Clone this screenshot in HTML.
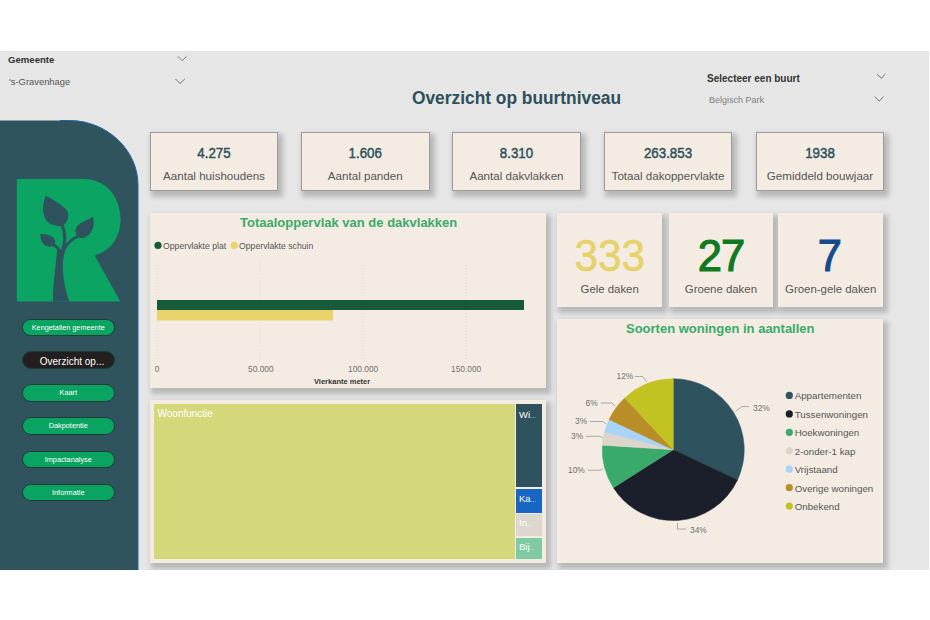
<!DOCTYPE html>
<html><head><meta charset="utf-8">
<style>
*{margin:0;padding:0;box-sizing:border-box}
html,body{width:930px;height:620px;overflow:hidden;background:#fff;font-family:"Liberation Sans",sans-serif}
.abs{position:absolute}
#bg{position:absolute;left:0;top:51.3px;width:929px;height:519px;background:#e6e6e6}
#side{position:absolute;left:0;top:120px;width:138px;height:450px;background:#2e535e;border-top-right-radius:68px 62px;border-right:1px solid #3a78c0}
.btn{position:absolute;left:22px;width:92.5px;height:17.5px;border-radius:9px;background:#0aa462;color:#fff;font-size:7.3px;text-align:center;line-height:15.5px;border:1px solid #223c3a;white-space:nowrap}
.card{position:absolute;background:#f4ece2;box-shadow:3px 4px 5px 2px rgba(0,0,0,0.2)}
.kpi{border:1px solid #9a9a96}
.kv{position:absolute;left:0;right:0;text-align:center;font-weight:normal;-webkit-text-stroke:0.45px #2d4f5c;color:#2d4f5c;font-size:14.8px;line-height:17px;transform:scaleX(0.9)}
.kl{position:absolute;left:0;right:0;text-align:center;color:#555;font-size:11.6px;line-height:14px}
.t{position:absolute;white-space:nowrap}
.big{position:absolute;left:0;right:0;text-align:center;font-size:43.5px;line-height:50px}
.sl{position:absolute;left:0;right:0;text-align:center;color:#555;font-size:11.4px;line-height:14px}
.pl{position:absolute;font-size:8.4px;color:#707070;white-space:nowrap;line-height:10px}
.lg{position:absolute;left:794.7px;font-size:9.75px;color:#555;white-space:nowrap;line-height:12px}
.tm{position:absolute;color:#fff;font-size:9.5px;white-space:nowrap;line-height:12px}
.tm i{font-style:normal;font-size:6px;letter-spacing:0.3px}
</style></head><body>
<div id="bg"></div>
<!-- slicers -->
<div class="t" style="left:8px;top:54px;font-size:9.6px;font-weight:bold;color:#333">Gemeente</div>
<div class="t" style="left:9px;top:76px;font-size:9.4px;color:#555">'s-Gravenhage</div>

<div class="t" style="left:412.4px;top:87.5px;font-size:18px;transform:scaleX(0.963);transform-origin:0 0;font-weight:bold;color:#2d4f5c">Overzicht op buurtniveau</div>

<div class="t" style="left:707px;top:72.5px;font-size:10px;font-weight:bold;color:#333">Selecteer een buurt</div>
<div class="t" style="left:709px;top:95px;font-size:9px;color:#808080">Belgisch Park</div>

<svg class="abs" style="left:0;top:0" width="930" height="120"><g fill="none" stroke="#666" stroke-width="0.9">
<path d="M178 56.5 L182.2 60.7 L186.4 56.5"/>
<path d="M175.5 79 L180 83.5 L184.8 79"/>
<path d="M877 74.2 L881.2 78.3 L885.4 74.2"/>
<path d="M874.8 96.5 L879.2 101.2 L883.6 96.5"/>
</g></svg>
<svg class="abs" style="left:0;top:0" width="140" height="570"><path d="M0 120.5 L69.5 120.5 C107 120.5 138 150 138 185 L138 570 L0 570 Z" fill="#2f545e"/><path d="M60 120.5 L69.5 120.5 C107 120.5 138 150 138 185 L138 570" fill="none" stroke="#2466a6" stroke-width="1"/></svg>
<svg class="abs" style="left:0;top:0" width="140" height="320">
 <path d="M16.8 179 L84.5 179 C104 179 120.5 195 120.5 219 C120.5 240 108 252 94.5 255.2 L120.3 301.5 L16.8 301.5 Z" fill="#0ba462"/>
 <g fill="#2e535e">
 <path d="M45.8 195.7 C52 199 62 204 67.3 211 C70 217 67 224 61.6 225.8 C56 227 49 224 46 220 C42 214 42.5 203 45.8 195.7 Z"/>
 <path d="M93 216.5 C88 220 80 222 76.5 227 C74 232 77 238 81.5 238.2 C87 238 92 233 93.5 226 C94 222 93.5 219 93 216.5 Z"/>
 <path d="M40.2 234.1 C45 234 51 235 54 238.5 C56 241 55.5 245 52.5 246.3 C48 247.5 43.5 245.5 42 242 C40.5 239 40.5 236.5 40.2 234.1 Z"/>
 <path d="M57 250.5 C56.5 262 53 280 53 301.5 L69.4 301.5 C64 288 61.5 268 63.7 257 C64.5 252 66 249 67.5 246.5 Z"/>
 </g>
 <g fill="none" stroke="#2e535e" stroke-linecap="round">
 <path d="M62 225 C65.5 233 66 242 62 252" stroke-width="3.2"/>
 <path d="M78.5 236 C73 238.5 69 241 65.5 247" stroke-width="3"/>
 <path d="M53 244 C56 246 58.5 248.5 60 252" stroke-width="2.8"/>
 </g>
</svg>
<div class="btn" style="top:318.8px">Kengetallen gemeente</div>
<div class="btn" style="top:351px;left:22px;width:93px;background:#231f20;font-size:10px;height:18px;line-height:19px;padding-left:7px">Overzicht op...</div>
<div class="btn" style="top:384.3px">Kaart</div>
<div class="btn" style="top:417.3px">Dakpotentie</div>
<div class="btn" style="top:450.5px">Impactanalyse</div>
<div class="btn" style="top:483.5px">Informatie</div>

<!-- KPI cards -->
<div class="card kpi" style="left:150px;top:131.5px;width:128px;height:59px"><div class="kv" style="top:12.7px">4.275</div><div class="kl" style="top:36.4px">Aantal huishoudens</div></div>
<div class="card kpi" style="left:301px;top:131.5px;width:128.5px;height:59px"><div class="kv" style="top:12.7px">1.606</div><div class="kl" style="top:36.4px">Aantal panden</div></div>
<div class="card kpi" style="left:452px;top:131.5px;width:129px;height:59px"><div class="kv" style="top:12.7px">8.310</div><div class="kl" style="top:36.4px">Aantal dakvlakken</div></div>
<div class="card kpi" style="left:604px;top:131.5px;width:128px;height:59px"><div class="kv" style="top:12.7px">263.853</div><div class="kl" style="top:36.4px">Totaal dakoppervlakte</div></div>
<div class="card kpi" style="left:756px;top:131.5px;width:128px;height:59px"><div class="kv" style="top:12.7px">1938</div><div class="kl" style="top:36.4px">Gemiddeld bouwjaar</div></div>

<!-- bar chart -->
<div class="card" style="left:150px;top:213px;width:396px;height:175px"></div>
<div class="t" style="left:240px;top:215px;font-size:13px;font-weight:bold;color:#3aab6a">Totaaloppervlak van de dakvlakken</div>
<svg class="abs" style="left:0;top:0" width="930" height="620">
 <circle cx="158" cy="245.4" r="3.6" fill="#165a38"/>
 <circle cx="234.2" cy="245.4" r="3.6" fill="#e8d36a"/>
 <g stroke="#e3dcd1" stroke-width="1" stroke-dasharray="1 2">
  <line x1="157" y1="262" x2="157" y2="361"/>
  <line x1="260" y1="262" x2="260" y2="361"/>
  <line x1="363" y1="262" x2="363" y2="361"/>
  <line x1="466" y1="262" x2="466" y2="361"/>
 </g>
 <rect x="157" y="300" width="367" height="10" fill="#165a38"/>
 <rect x="157" y="310" width="176" height="10.5" fill="#e8d36a"/>
</svg>
<div class="t" style="left:163px;top:240.5px;font-size:8.7px;color:#555">Oppervlakte plat</div>
<div class="t" style="left:239px;top:240.5px;font-size:8.7px;color:#555">Oppervlakte schuin</div>
<div class="pl" style="left:154.8px;top:364px">0</div>
<div class="pl" style="left:248px;top:364px">50.000</div>
<div class="pl" style="left:348px;top:364px">100.000</div>
<div class="pl" style="left:451px;top:364px">150.000</div>
<div class="t" style="left:314px;top:376.5px;font-size:7.5px;font-weight:bold;color:#333">Vierkante meter</div>

<!-- treemap -->
<div class="card" style="left:150px;top:400px;width:396px;height:163px"></div>
<div class="abs" style="left:154.3px;top:404px;width:360.7px;height:154.6px;background:#d4d87a"></div>
<div class="abs" style="left:516px;top:404px;width:26px;height:83px;background:#2e535e"></div>
<div class="abs" style="left:516px;top:489px;width:26px;height:24px;background:#1866c4"></div>
<div class="abs" style="left:516px;top:514px;width:26px;height:22px;background:#ddd7cf"></div>
<div class="abs" style="left:516px;top:538px;width:26px;height:21px;background:#80c9a2"></div>
<div class="tm" style="left:157.5px;top:407.5px;font-size:10px">Woonfunctie</div>
<div class="tm" style="left:519px;top:408.5px">Wi<i>...</i></div>
<div class="tm" style="left:519px;top:492.5px">Ka<i>...</i></div>
<div class="tm" style="left:519px;top:516.5px">In<i>...</i></div>
<div class="tm" style="left:519px;top:540.5px">Bij<i>...</i></div>

<!-- small kpis -->
<div class="card" style="left:557px;top:213px;width:105.3px;height:93.5px"><div class="big" style="top:18px;color:#e6d26a;transform:scaleX(0.97);-webkit-text-stroke:0.6px #e6d26a">333</div><div class="sl" style="top:69px">Gele daken</div></div>
<div class="card" style="left:668.5px;top:213px;width:104.8px;height:93.5px"><div class="big" style="top:18px;color:#0f7a1e;font-weight:normal;-webkit-text-stroke:1.2px #0f7a1e;letter-spacing:-1px">27</div><div class="sl" style="top:69px">Groene daken</div></div>
<div class="card" style="left:778.3px;top:213px;width:104.8px;height:93.5px"><div class="big" style="top:18px;left:-1.5px;color:#174a8c;font-weight:normal;-webkit-text-stroke:1.1px #174a8c">7</div><div class="sl" style="top:69px">Groen-gele daken</div></div>

<!-- pie -->
<div class="card" style="left:557px;top:318.6px;width:326.4px;height:244.4px"></div>
<div class="t" style="left:626px;top:321px;font-size:13px;font-weight:bold;color:#3aab6a">Soorten woningen in aantallen</div>
<svg class="abs" style="left:0;top:0" width="930" height="620">
<path d="M673.3 449.7 L673.3 378.7 A71 71 0 0 1 737.5 479.9 Z" fill="#2e535e" stroke="#2e535e" stroke-width="0.5" stroke-linejoin="round"/>
<path d="M673.3 449.7 L737.5 479.9 A71 71 0 0 1 613.4 487.7 Z" fill="#1b1e2b" stroke="#1b1e2b" stroke-width="0.5" stroke-linejoin="round"/>
<path d="M673.3 449.7 L613.4 487.7 A71 71 0 0 1 602.4 445.2 Z" fill="#3aaa6a" stroke="#3aaa6a" stroke-width="0.5" stroke-linejoin="round"/>
<path d="M673.3 449.7 L602.4 445.2 A71 71 0 0 1 604.5 432.0 Z" fill="#dcd5ca" stroke="#dcd5ca" stroke-width="0.5" stroke-linejoin="round"/>
<path d="M673.3 449.7 L604.5 432.0 A71 71 0 0 1 609.1 419.5 Z" fill="#a8d5f7" stroke="#a8d5f7" stroke-width="0.5" stroke-linejoin="round"/>
<path d="M673.3 449.7 L609.1 419.5 A71 71 0 0 1 624.7 397.9 Z" fill="#b98d27" stroke="#b98d27" stroke-width="0.5" stroke-linejoin="round"/>
<path d="M673.3 449.7 L624.7 397.9 A71 71 0 0 1 673.3 378.7 Z" fill="#c2c223" stroke="#c2c223" stroke-width="0.5" stroke-linejoin="round"/>
<g fill="none" stroke="#999" stroke-width="0.8">
 <path d="M735.3 411.5 L742 406.6 L749 406.6"/>
 <path d="M677.5 523 L677.5 529 L686 529"/>
 <path d="M588 470.3 L600 470.3 L603 469"/>
 <path d="M586 436.3 L600 436.3 L603 438"/>
 <path d="M590 421.5 L603 421.5 L606 424"/>
 <path d="M600.6 403 L612 403 L615.1 406.4"/>
 <path d="M634.9 376.5 L642.7 376.5 L646.5 381.8"/>
</g>
<circle cx="789.3" cy="395.4" r="3.6" fill="#2e535e"/>
<circle cx="789.3" cy="413.9" r="3.6" fill="#1b1e2b"/>
<circle cx="789.3" cy="432.3" r="3.6" fill="#3aaa6a"/>
<circle cx="789.3" cy="450.8" r="3.6" fill="#dcd5ca"/>
<circle cx="789.3" cy="469.2" r="3.6" fill="#a8d5f7"/>
<circle cx="789.3" cy="487.7" r="3.6" fill="#b98d27"/>
<circle cx="789.3" cy="506.1" r="3.6" fill="#c2c223"/>
</svg>
<div class="pl" style="left:753px;top:403px">32%</div>
<div class="pl" style="left:690px;top:525px">34%</div>
<div class="pl" style="left:568px;top:465px">10%</div>
<div class="pl" style="left:571px;top:431px">3%</div>
<div class="pl" style="left:575px;top:416px">3%</div>
<div class="pl" style="left:585.5px;top:398px">6%</div>
<div class="pl" style="left:616.5px;top:371px">12%</div>
<div class="lg" style="top:390.0px">Appartementen</div>
<div class="lg" style="top:408.5px">Tussenwoningen</div>
<div class="lg" style="top:427.0px">Hoekwoningen</div>
<div class="lg" style="top:445.5px">2-onder-1 kap</div>
<div class="lg" style="top:464.0px">Vrijstaand</div>
<div class="lg" style="top:482.5px">Overige woningen</div>
<div class="lg" style="top:501.0px">Onbekend</div>
<div class="abs" style="left:0;top:569.5px;width:930px;height:51px;background:#fff;z-index:5"></div>
<div class="abs" style="left:929px;top:0;width:1px;height:620px;background:#fff;z-index:5"></div>
</body></html>
